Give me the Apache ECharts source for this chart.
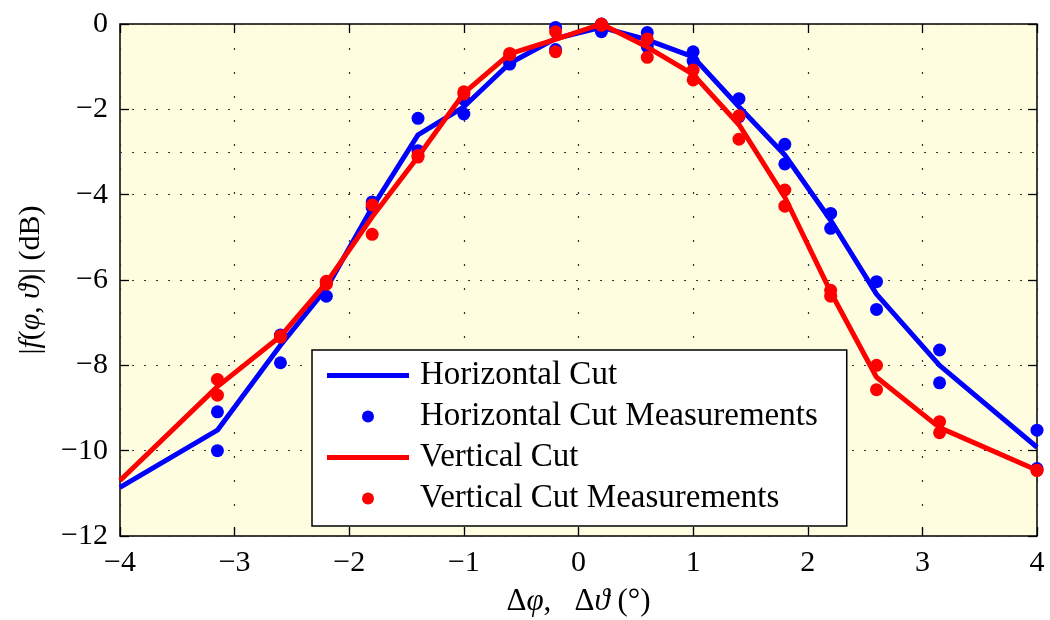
<!DOCTYPE html>
<html>
<head>
<meta charset="utf-8">
<script src="https://cdn.jsdelivr.net/npm/echarts@6/dist/echarts.min.js"></script>
<style>
html,body{margin:0;padding:0;background:#fff;}
#chart{width:1050px;height:620px;}
</style>
</head>
<body>
<div id="chart"></div>
<script>
// ---- data ----
const xLine = [-4, -3.15, -2.6, -2.2, -1.8, -1.4, -1.0, -0.6, -0.2, 0.2, 0.6, 1.0, 1.4, 1.8, 2.2, 2.6, 3.15, 4];
const hLine = [-10.86, -9.52, -7.53, -6.2, -4.3, -2.6, -1.94, -0.92, -0.34, -0.08, -0.37, -0.77, -1.94, -3.07, -4.6, -6.33, -8.0, -9.92];
const vLine = [-10.7, -8.5, -7.32, -6.07, -4.52, -3.11, -1.62, -0.7, -0.36, 0, -0.54, -1.18, -2.36, -4.06, -6.28, -8.28, -9.46, -10.46];

const xMeas  = [-3.15, -2.6, -2.2, -1.8, -1.4, -1.0, -0.6, -0.2, 0.2, 0.6, 1.0, 1.4, 1.8, 2.2, 2.6, 3.15, 4];
const hMeasA = [-9.09, -7.29, -6.05, -4.17, -2.21, -1.77, -0.9, -0.08, 0, -0.2, -0.65, -1.75, -2.82, -4.44, -6.04, -7.64, -9.52];
const hMeasB = [-10.0, -7.94, -6.38, -4.3, -2.97, -2.11, -0.94, -0.6, -0.18, -0.53, -0.87, -2.17, -3.28, -4.79, -6.69, -8.41, -10.42];
const vMeasA = [-8.33, -7.31, -6.03, -4.24, -3.08, -1.59, -0.69, -0.18, 0, -0.35, -1.08, -2.15, -3.89, -6.24, -8.0, -9.32, -10.46];
const vMeasB = [-8.70, -7.34, -6.1, -4.93, -3.12, -1.64, -0.72, -0.65, -0.03, -0.78, -1.31, -2.70, -4.27, -6.38, -8.57, -9.58, -10.46];

const seriesNames = ['Horizontal Cut', 'Horizontal Cut Measurements', 'Vertical Cut', 'Vertical Cut Measurements'];
const extraGridY = [-3];

// ---- build ----
const pair = (xs, ys) => xs.map((x, i) => [x, ys[i]]);
const FONT = 'Liberation Serif';
const minus = v => String(v).replace('-', '\u2212');
const tickStyle = {show: true, inside: true, length: 9, lineStyle: {color: '#000', width: 1.3}};
const LINE_ICON = 'path://M0,0H82V5H0Z';

const chart = echarts.init(document.getElementById('chart'), null, {renderer: 'canvas'});
chart.setOption({
  animation: false,
  backgroundColor: '#fff',
  textStyle: {fontFamily: FONT, color: '#000'},
  grid: {left: 120, right: 13, top: 24, bottom: 84, containLabel: false, outerBoundsMode: 'none',
    show: true, backgroundColor: '#FEFDE0', borderColor: '#000', borderWidth: 1.5},
  xAxis: [{
    type: 'value', min: -4, max: 4, interval: 1, position: 'bottom',
    axisLine: {show: false, onZero: false}, axisTick: tickStyle,
    axisLabel: {formatter: minus, fontSize: 30, color: '#000', margin: 12, fontFamily: FONT},
    splitLine: {show: true, lineStyle: {color: '#333', width: 1.2, type: [2, 22]}},
    name: '\u0394{i|\u03C6},   \u0394{i|\u03D1} (\u00B0)', nameLocation: 'middle', nameGap: 50,
    nameTextStyle: {fontSize: 31, color: '#000', fontFamily: FONT, rich: {i: {fontStyle: 'italic', fontSize: 31, fontFamily: FONT}}}
  }, {
    type: 'value', min: -4, max: 4, interval: 1, position: 'top',
    axisLine: {show: false, onZero: false}, axisTick: tickStyle, axisLabel: {show: false}, splitLine: {show: false}
  }],
  yAxis: [{
    type: 'value', min: -12, max: 0, interval: 2, position: 'left',
    axisLine: {show: false, onZero: false}, axisTick: tickStyle,
    axisLabel: {formatter: minus, fontSize: 30, color: '#000', margin: 12, fontFamily: FONT},
    splitLine: {show: true, lineStyle: {color: '#333', width: 1.2, type: [2, 10]}},
    name: '|{i|f}({i|\u03C6}, {i|\u03D1})| (dB)', nameLocation: 'middle', nameGap: 74, nameRotate: 90,
    nameTextStyle: {fontSize: 30, color: '#000', fontFamily: FONT, rich: {i: {fontStyle: 'italic', fontSize: 30, fontFamily: FONT}}}
  }, {
    type: 'value', min: -12, max: 0, interval: 2, position: 'right',
    axisLine: {show: false, onZero: false}, axisTick: tickStyle, axisLabel: {show: false}, splitLine: {show: false}
  }],
  legend: {
    show: true, orient: 'vertical', left: 312, top: 350,
    data: [
      {name: seriesNames[0], icon: LINE_ICON},
      {name: seriesNames[1]},
      {name: seriesNames[2], icon: LINE_ICON},
      {name: seriesNames[3]}
    ],
    selectedMode: false,
    backgroundColor: '#fff', borderColor: '#000', borderWidth: 1.5,
    padding: [9, 29, 11, 15],
    itemWidth: 82, itemHeight: 12, itemGap: 8,
    textStyle: {fontSize: 33, lineHeight: 32, color: '#000', fontFamily: FONT, padding: [0, 0, 0, 6]}
  },
  series: [
    {
      name: seriesNames[0], type: 'line', data: pair(xLine, hLine), symbol: 'none',
      lineStyle: {color: '#0000FF', width: 5}, itemStyle: {color: '#0000FF'},
      markLine: {silent: true, symbol: 'none', label: {show: false},
        lineStyle: {color: '#333', width: 1.2, type: [2, 10]},
        data: extraGridY.map(v => ({yAxis: v}))},
      z: 2
    },
    {
      name: seriesNames[1], type: 'scatter', symbol: 'circle', symbolSize: 13,
      data: pair(xMeas, hMeasA).concat(pair(xMeas, hMeasB)),
      itemStyle: {color: '#0000FF', opacity: 1}, z: 3
    },
    {
      name: seriesNames[2], type: 'line', data: pair(xLine, vLine), symbol: 'none',
      lineStyle: {color: '#FF0000', width: 5}, itemStyle: {color: '#FF0000'}, z: 4
    },
    {
      name: seriesNames[3], type: 'scatter', symbol: 'circle', symbolSize: 13,
      data: pair(xMeas, vMeasA).concat(pair(xMeas, vMeasB)),
      itemStyle: {color: '#FF0000', opacity: 1}, z: 5
    }
  ]
});
</script>
</body>
</html>
